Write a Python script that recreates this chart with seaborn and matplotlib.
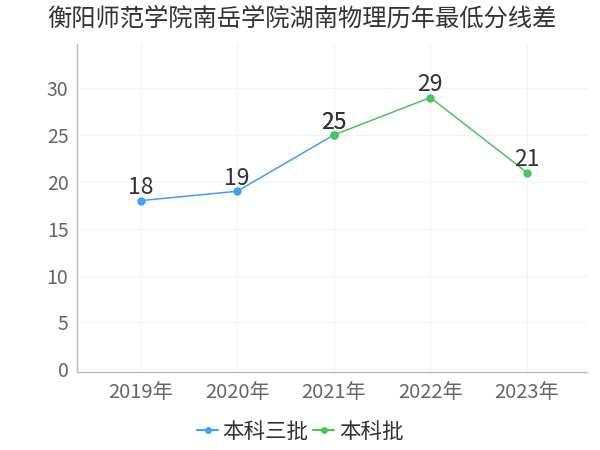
import matplotlib
matplotlib.use("Agg")
import matplotlib.pyplot as plt
import seaborn as sns
import pandas as pd
import numpy as np
from matplotlib.lines import Line2D

years = ["2019年", "2020年", "2021年", "2022年", "2023年"]
series_names = ["本科三批", "本科批"]
benke3 = [18, 19, 25, None, None]
benke = [None, None, 25, 29, 21]
colors = ["#3ea0f7", "#4cc35b"]
title = "衡阳师范学院南岳学院湖南物理历年最低分线差"

sns.set_theme(style="white")
plt.rcParams['font.family'] = ['Noto Sans CJK SC', 'DejaVu Sans']

rows = []
for name, vals in zip(series_names, [benke3, benke]):
    for y, v in zip(years, vals):
        if v is not None:
            rows.append({"year": y, "value": v, "series": name})
df = pd.DataFrame(rows)
df["xpos"] = df["year"].map({y: i for i, y in enumerate(years)})

fig = plt.figure(figsize=(6, 4.5), dpi=100)
ax = fig.add_axes([0.128, 0.173, 0.85, 0.729])

sns.lineplot(data=df, x="xpos", y="value", hue="series", hue_order=series_names,
             palette=colors, marker="o", markersize=6, markeredgewidth=0,
             linewidth=1.1, ax=ax, legend=False)

for _, r in df.iterrows():
    ax.annotate(str(int(r["value"])), (r["xpos"], r["value"]), xytext=(0, 1),
                textcoords="offset points", ha="center", va="bottom",
                fontsize=16.5, color="#333333")

ax.set_xlim(-0.66, 4.62)
ax.set_ylim(-0.3, 34.7)
ax.set_xticks(range(len(years)))
ax.set_xticklabels(years)
ax.set_yticks([0, 5, 10, 15, 20, 25, 30])
ax.set_xlabel("")
ax.set_ylabel("")
ax.tick_params(axis="x", colors="#aaaaaa", length=4, width=0.8, labelsize=14.5,
               labelcolor="#666666", pad=3)
ax.tick_params(axis="y", length=0, labelsize=14, labelcolor="#666666", pad=6)
ax.grid(True, color="#f3f3f3", linewidth=0.8)
for s in ["top", "right"]:
    ax.spines[s].set_visible(False)
for s in ["left", "bottom"]:
    ax.spines[s].set_color("#bbbbbb")
    ax.spines[s].set_linewidth(1.0)

handles = [Line2D([0], [0], color=c, marker="o", markersize=5, markeredgewidth=0, linewidth=1.5)
           for c in colors]
fig.legend(handles, series_names, loc="center", bbox_to_anchor=(0.5, 0.04), ncol=2,
           frameon=False, fontsize=15.5, handlelength=1.0, handletextpad=0.2, columnspacing=0.2,
           labelcolor="#333333")

fig.text(0.078, 0.958, title, ha="left", va="center", fontsize=17.5, color="#333333")

fig.savefig("out.png", dpi=100)
